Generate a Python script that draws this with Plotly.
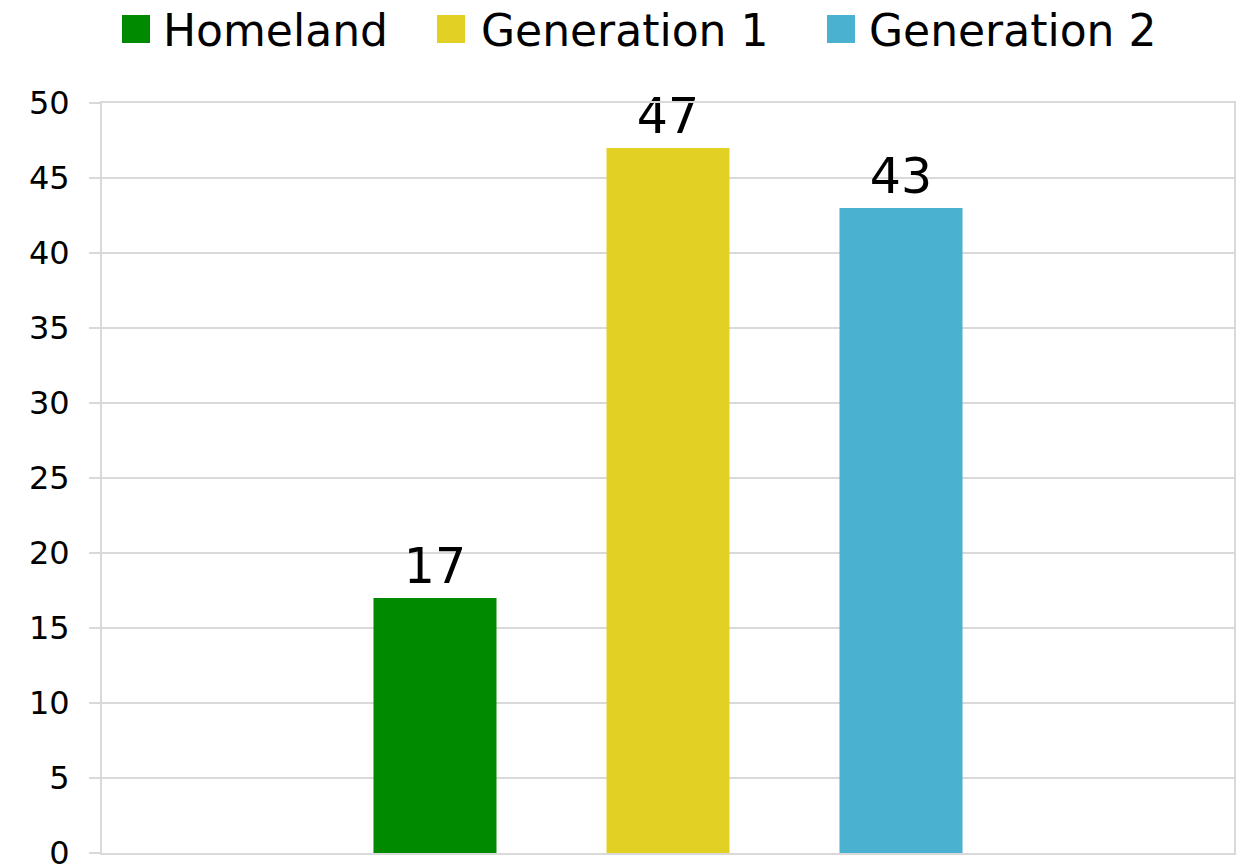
import plotly.graph_objects as go

categories = [""]
series_names = ["Homeland", "Generation 1", "Generation 2"]
series_values = [[17], [47], [43]]
colors = ["#008A00", "#E3D025", "#4BB1D0"]
y_ticks = [0, 5, 10, 15, 20, 25, 30, 35, 40, 45, 50]

FONT = "'DejaVu Sans', sans-serif"
W, H = 1243, 866
ML, MR, MT, MB = 102, 9, 103, 13
PW, PH = W - ML - MR, H - MT - MB


def px_x(px):
    return (px - ML) / PW


def px_y(py):
    return (H - MB - py) / PH


fig = go.Figure()
for name, vals, col in zip(series_names, series_values, colors):
    fig.add_trace(go.Bar(
        x=categories, y=vals, name=name, marker_color=col,
        marker_line_width=0,
        text=[str(v) for v in vals], textposition="outside",
        textfont=dict(size=49, color="#000000", family=FONT),
        cliponaxis=False, showlegend=False,
    ))

# legend drawn manually (large square swatches)
legend_sq = [(122, 150), (437, 465), (827, 855)]
legend_tx = [161, 479, 867]
for name, col, (x0, x1), tx in zip(series_names, colors, legend_sq, legend_tx):
    fig.add_shape(type="rect", xref="paper", yref="paper",
                  x0=px_x(x0), x1=px_x(x1), y0=px_y(43), y1=px_y(15),
                  fillcolor=col, line_width=0, layer="above")
    fig.add_annotation(text=name, xref="paper", yref="paper", x=px_x(tx), y=px_y(31),
                       xanchor="left", yanchor="middle", showarrow=False,
                       font=dict(size=44, family=FONT, color="#000000"))

fig.update_layout(
    width=W, height=H,
    margin=dict(l=ML, r=MR, t=MT, b=MB, autoexpand=False),
    paper_bgcolor="white", plot_bgcolor="white",
    barmode="group", bargap=0.3825, bargroupgap=0.472,
    font=dict(family=FONT, color="#000000"),
    showlegend=False,
)
fig.update_xaxes(showticklabels=False, showgrid=False, showline=True, linecolor="#d9d9d9",
                 linewidth=2, mirror=True, ticks="", automargin=False)
fig.update_yaxes(range=[0, 50], tickvals=y_ticks, showgrid=True, gridcolor="#d9d9d9", gridwidth=2,
                 showline=True, linecolor="#d9d9d9", linewidth=2, mirror=True,
                 ticks="outside", ticklen=11, tickcolor="#d9d9d9", tickwidth=2,
                 tickfont=dict(size=32, family=FONT, color="#000000"), zeroline=False,
                 ticklabelstandoff=13, ticklabeloverflow="allow", automargin=False)

fig.write_html("out.html")
